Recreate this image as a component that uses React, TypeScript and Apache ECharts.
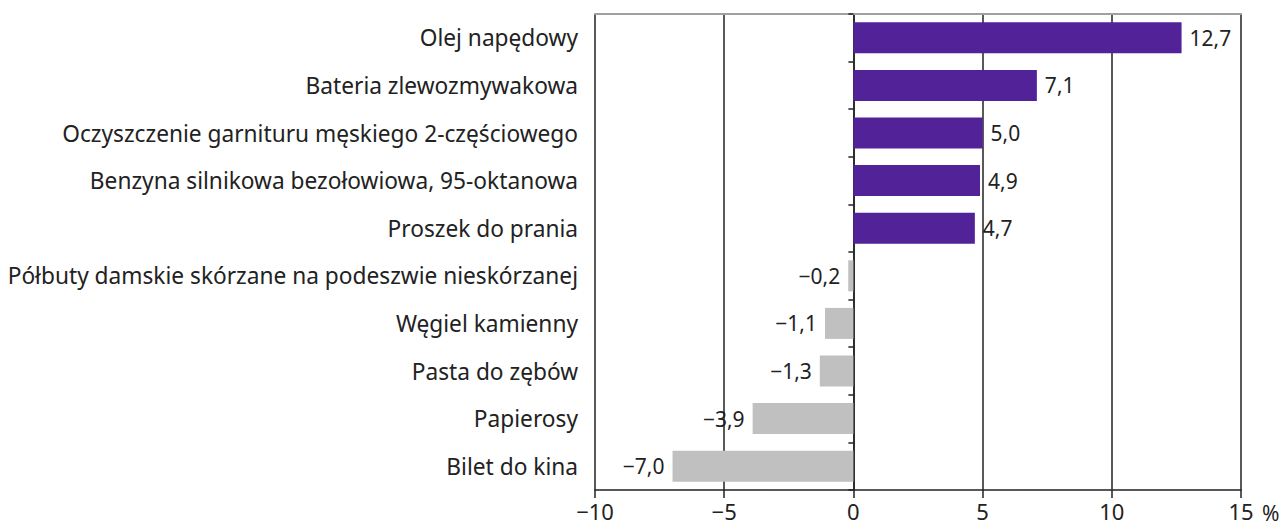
import React, { useEffect, useRef } from "react";
import * as echarts from "echarts";

const categories = [
  "Olej napędowy",
  "Bateria zlewozmywakowa",
  "Oczyszczenie garnituru męskiego 2-częściowego",
  "Benzyna silnikowa bezołowiowa, 95-oktanowa",
  "Proszek do prania",
  "Półbuty damskie skórzane na podeszwie nieskórzanej",
  "Węgiel kamienny",
  "Pasta do zębów",
  "Papierosy",
  "Bilet do kina",
];
const values = [12.7, 7.1, 5.0, 4.9, 4.7, -0.2, -1.1, -1.3, -3.9, -7.0];
const unitLabel = "%";

const PURPLE = "#522398";
const GREY = "#c0c0c0";
const TEXT = "#222222";
const FONT = "'Noto Sans', 'Open Sans', sans-serif";

const fmt = (v: number) => {
  const s = Math.abs(v).toFixed(1).replace(".", ",");
  return v < 0 ? "\u2212" + s : s;
};

export default function App() {
  const ref = useRef<HTMLDivElement>(null);
  useEffect(() => {
    if (!ref.current) return;
    const chart = echarts.init(ref.current, null, { renderer: "svg" });
    chart.setOption({
      animation: false,
      textStyle: { fontFamily: FONT, color: TEXT },
      grid: { left: 595, right: 47, top: 14, bottom: 35, containLabel: false },
      xAxis: [
        {
          type: "value",
          min: -10,
          max: 15,
          interval: 5,
          position: "bottom",
          axisLine: { show: true, onZero: false, lineStyle: { color: "#222", width: 1.5 } },
          axisTick: { show: true, length: 8, lineStyle: { color: "#222", width: 1.5 } },
          axisLabel: {
            fontFamily: FONT,
            fontSize: 22,
            color: TEXT,
            margin: 10,
            formatter: (v: number) => fmt(v).replace(",0", ""),
          },
          splitLine: {
            show: true,
            showMinLine: true,
            showMaxLine: true,
            lineStyle: { color: "#222", width: 1.5 },
          },
        },
        {
          type: "value",
          min: -10,
          max: 15,
          interval: 5,
          position: "top",
          axisLine: { show: true, onZero: false, lineStyle: { color: "#a0a0a0", width: 2 } },
          axisTick: { show: false },
          axisLabel: { show: false },
          splitLine: { show: false },
        },
      ],
      yAxis: [
        {
          type: "category",
          data: categories,
          inverse: true,
          position: "left",
          axisLine: { show: false },
          axisTick: { show: false },
          axisLabel: {
            fontFamily: FONT,
            fontSize: 22.7,
            color: TEXT,
            margin: 17,
          },
        },
        {
          type: "category",
          data: categories,
          inverse: true,
          position: "left",
          axisLine: { show: true, onZero: true, lineStyle: { color: "#222", width: 1.5 } },
          axisTick: { show: true, length: 5, lineStyle: { color: "#222", width: 1.5 } },
          axisLabel: { show: false },
        },
      ],
      series: [
        {
          type: "bar",
          data: values.map((v) => ({
            value: v,
            itemStyle: { color: v >= 0 ? PURPLE : GREY },
            label: { position: v >= 0 ? "right" : "left" },
          })),
          barWidth: 31,
          label: {
            show: true,
            distance: 8,
            fontFamily: FONT,
            fontSize: 21,
            color: TEXT,
            formatter: (p: any) => fmt(p.value),
          },
        },
      ],
      graphic: [
        {
          type: "text",
          left: 1262,
          top: 502,
          style: { text: unitLabel, fontFamily: FONT, fontSize: 21, fill: TEXT },
        },
      ],
    });
    return () => chart.dispose();
  }, []);
  return (
    <div
      ref={ref}
      style={{ position: "absolute", left: 0, top: 0, width: 1288, height: 525 }}
    />
  );
}
